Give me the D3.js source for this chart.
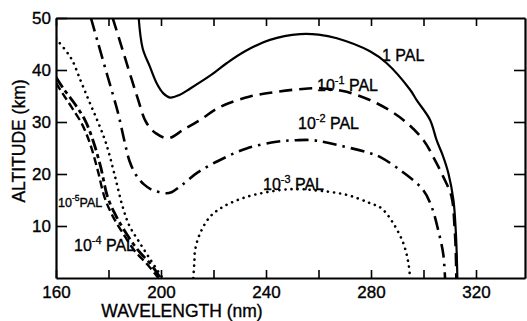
<html>
<head>
<meta charset="utf-8">
<script type="text/javascript" src="https://cdnjs.cloudflare.com/ajax/libs/d3/7.8.5/d3.min.js"></script>
<style>
  body { margin: 0; background: #fff; }
  svg text { font-family: "Liberation Sans", Arial, sans-serif; fill: #000; stroke: #000; stroke-width: 0.35px; }
</style>
</head>
<body>
<div id="chart"></div>
<script type="text/javascript">
// axis ticks
var xTicks = [160, 180, 200, 220, 240, 260, 280, 300, 320];
var xLabels = [160, 200, 240, 280, 320];
var yTicks = [10, 20, 30, 40, 50];

// curves, [wavelength nm, altitude km]
var pal1 = [[191.5,50],[193,44.2],[195.8,40.6],[198.4,37.4],[200.9,35.5],[203.4,34.7],[207,35.2],[211,36.4],
  [218.7,38.9],[225,41.3],[232,43.6],[241.5,45.8],[253,46.9],[260,46.8],[267,46.1],[279.6,43.6],[286,41.3],
  [294.9,36.2],[297.4,34.2],[302.5,30.4],[305,26.5],[307.4,23.5],[309.5,20.1],[311.4,15],[312.3,9],[312.7,4],[312.9,0]];
var pal1e1 = [[181.6,50],[184.8,44.8],[187.9,39.7],[191.1,34.6],[194.3,30],[198.1,27.8],[202.8,26.9],[208.5,28.5],
  [214.9,30.4],[222.5,32.9],[233.9,34.9],[244,35.8],[255,36.4],[260.6,36.5],[270.7,35.8],[282.2,33.6],[292.3,30.4],
  [300,26.5],[304,23],[307.5,19.5],[310.7,15.6],[311.8,10],[312.3,5],[312.5,0]];
var pal1e2 = [[173.3,50],[175.9,45.4],[179.7,38.7],[183.5,32],[186,26.5],[188,22.5],[190.5,19.8],[193.5,18],
  [196.8,16.9],[201.9,16.3],[204,16.5],[208,17.9],[214,20.3],[222.5,22.7],[232.6,24.9],[244,26.2],[251.7,26.5],
  [258,26.5],[264.4,25.9],[279.6,24],[283.4,23.3],[292.3,20.3],[299.9,16.9],[303.1,13.7],[305.6,9.2],[307.5,4.7],[308.2,0]];
var pal1e3Left = [[160,46],[165.7,42.3],[169.5,37.8],[172.7,33.9],[175.9,30.1],[179,26],[182.2,20.1],[185.4,13.7],
  [188,10],[191.6,7],[196,3.5],[200.6,0]];
var pal1e3Dome = [[212.3,0],[212.7,3],[213,5.4],[214.9,8.6],[218.7,11.8],[223.7,13.7],[232.6,15.6],[245.3,16.9],
  [252,17.1],[258,16.9],[270.7,16],[279.6,14.4],[284,13.4],[288.5,10.5],[292.3,6.7],[294.2,3],[294.9,0]];
var pal1e4 = [[160,38.6],[163,36.3],[167,33.6],[171,30.4],[174,26.6],[177,21.4],[179.7,15.5],[182.8,12],[186,9.2],
  [191,5.5],[196,2.7],[199.8,0]];
var pal1e5 = [[160,37.5],[162.5,35.5],[166,32.8],[170,29.5],[173,25.8],[176,20.5],[178.5,15.5],[181.5,12],[185,9],
  [190,5.2],[195,2.5],[199,0]];

var W = 527, H = 321;
var margin = {left: 56, right: 2, top: 18, bottom: 43};
var pw = W - margin.left - margin.right, ph = H - margin.top - margin.bottom;

var x = d3.scaleLinear().domain([160, 160 + pw / 2.625]).range([0, pw]);
var y = d3.scaleLinear().domain([0, 50]).range([ph, 0]);

var svg = d3.select("#chart").append("svg")
  .attr("width", W).attr("height", H)
  .attr("xmlns", "http://www.w3.org/2000/svg");

var g = svg.append("g").attr("transform", "translate(" + margin.left + "," + margin.top + ")");

g.append("clipPath").attr("id", "plotclip")
  .append("rect").attr("x", 0).attr("y", 0).attr("width", pw).attr("height", ph);

var line = d3.line()
  .x(function(d) { return x(d[0]); })
  .y(function(d) { return y(d[1]); })
  .curve(d3.curveCatmullRom.alpha(0.5));

var curves = [
  {data: pal1, w: 2.2, dash: null},
  {data: pal1e1, w: 2.6, dash: "13,7"},
  {data: pal1e2, w: 2.6, dash: "14,6,2.5,6"},
  {data: pal1e3Left, w: 2.6, dash: "0.1,6"},
  {data: pal1e3Dome, w: 2.6, dash: "0.1,6"},
  {data: pal1e4, w: 2.8, dash: "12,4,4,4"},
  {data: pal1e5, w: 2.4, dash: "8,4"}
];

var plot = g.append("g").attr("clip-path", "url(#plotclip)");
for (var i = 0; i < curves.length; i++) {
  plot.append("path")
    .attr("d", line(curves[i].data))
    .attr("fill", "none")
    .attr("stroke", "#000")
    .attr("stroke-width", curves[i].w)
    .attr("stroke-linecap", curves[i].dash && curves[i].dash.indexOf("0.1") === 0 ? "round" : "butt")
    .attr("stroke-dasharray", curves[i].dash);
}

// axes, ticks pointing inward
var xAxis = d3.axisBottom(x).tickValues(xTicks).tickSize(-8).tickSizeOuter(0).tickPadding(8)
  .tickFormat(function(d) { return xLabels.indexOf(d) >= 0 ? d : ""; });
var xTop = d3.axisTop(x).tickValues(xTicks).tickSize(-8).tickSizeOuter(0).tickFormat("");
var yAxis = d3.axisLeft(y).tickValues(yTicks).tickSize(-11).tickSizeOuter(0).tickPadding(5);
var yRight = d3.axisRight(y).tickValues([10, 20, 30, 40]).tickSize(-11).tickSizeOuter(0).tickFormat("");

function styleAxis(sel) {
  sel.select(".domain").attr("stroke-width", 2.2);
  sel.selectAll(".tick line").attr("stroke-width", 1.6);
  sel.selectAll(".tick text").style("font-size", "17px").attr("font-family", null);
}

g.append("g").attr("transform", "translate(0," + ph + ")").call(xAxis).call(styleAxis);
g.append("g").call(xTop).call(styleAxis);
g.append("g").call(yAxis).call(styleAxis);
g.append("g").attr("transform", "translate(" + pw + ",0)").call(yRight).call(styleAxis);

// axis titles
svg.append("text")
  .attr("x", margin.left + x(208)).attr("y", 317)
  .attr("text-anchor", "middle").style("font-size", "17.5px")
  .text("WAVELENGTH (nm)");
svg.append("text")
  .attr("transform", "translate(25,141) rotate(-90)")
  .attr("text-anchor", "middle").style("font-size", "17.5px")
  .text("ALTITUDE (km)");

// curve labels
var labels = [
  {x: 382, y: 61, exp: null, size: 16},
  {x: 317, y: 91, exp: "-1", size: 16},
  {x: 298, y: 129, exp: "-2", size: 16},
  {x: 263, y: 190, exp: "-3", size: 16},
  {x: 58, y: 207, exp: "-5", size: 12.5},
  {x: 74, y: 251, exp: "-4", size: 16}
];
labels.forEach(function(l) {
  var t = svg.append("text").attr("x", l.x).attr("y", l.y).style("font-size", l.size + "px");
  if (l.exp === null) {
    t.text("1 PAL");
  } else {
    t.append("tspan").text("10");
    t.append("tspan").attr("dy", -l.size * 0.45).style("font-size", (l.size * 0.68) + "px").text(l.exp);
    t.append("tspan").attr("dy", l.size * 0.45).text(l.size > 13 ? " PAL" : "PAL");
  }
});
</script>
</body>
</html>
